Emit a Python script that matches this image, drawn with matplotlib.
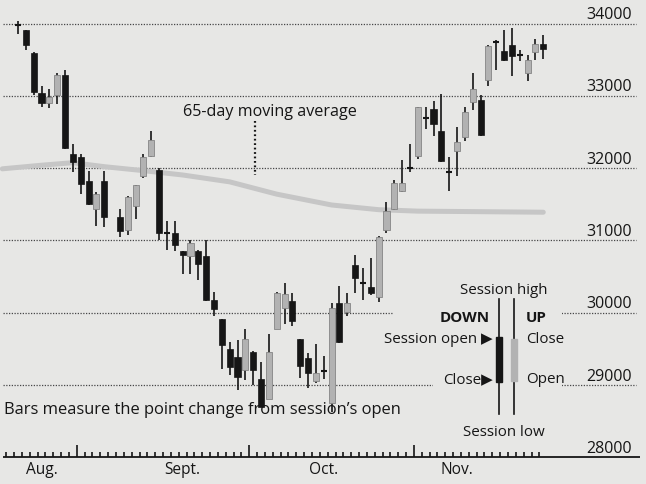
import numpy as np
import matplotlib.pyplot as plt
from matplotlib.patches import Rectangle

# Daily sessions (Aug 18 - Nov 21, 2022)
dates = ['2022-08-18', '2022-08-19', '2022-08-22', '2022-08-23', '2022-08-24',
         '2022-08-25', '2022-08-26', '2022-08-29', '2022-08-30', '2022-08-31',
         '2022-09-01', '2022-09-02', '2022-09-06', '2022-09-07', '2022-09-08',
         '2022-09-09', '2022-09-12', '2022-09-13', '2022-09-14', '2022-09-15',
         '2022-09-16', '2022-09-19', '2022-09-20', '2022-09-21', '2022-09-22',
         '2022-09-23', '2022-09-26', '2022-09-27', '2022-09-28', '2022-09-29',
         '2022-09-30', '2022-10-03', '2022-10-04', '2022-10-05', '2022-10-06',
         '2022-10-07', '2022-10-10', '2022-10-11', '2022-10-12', '2022-10-13',
         '2022-10-14', '2022-10-17', '2022-10-18', '2022-10-19', '2022-10-20',
         '2022-10-21', '2022-10-24', '2022-10-25', '2022-10-26', '2022-10-27',
         '2022-10-28', '2022-10-31', '2022-11-01', '2022-11-02', '2022-11-03',
         '2022-11-04', '2022-11-07', '2022-11-08', '2022-11-09', '2022-11-10',
         '2022-11-11', '2022-11-14', '2022-11-15', '2022-11-16', '2022-11-17',
         '2022-11-18', '2022-11-21']
opens = [33990, 33910, 33590, 33040, 32900, 33015, 33290, 32190, 32150, 31820,
         31430, 31820, 31330, 31140, 31470, 31885, 32165, 31970, 31110, 31100,
         30850, 30790, 30860, 30790, 30170, 29910, 29500, 29390, 29210, 29460,
         29090, 28810, 29780, 30060, 30160, 29635, 29370, 29060, 29190, 28745,
         30140, 30005, 30655, 30400, 30360, 30220, 31150, 31430, 31680, 32000,
         32165, 32690, 32820, 32515, 31950, 32230, 32435, 32920, 32940, 33215,
         33750, 33620, 33705, 33570, 33320, 33600, 33710]
highs = [34040, 33915, 33600, 33140, 33100, 33320, 33360, 32330, 32190, 31960,
         31670, 31960, 31440, 31620, 31770, 32200, 32510, 32000, 31270, 31270,
         30855, 31000, 30870, 31000, 30280, 29920, 29590, 29620, 29780, 29470,
         29320, 29700, 30280, 30410, 30270, 29640, 29440, 29570, 29405, 30140,
         30375, 30270, 30795, 30615, 30755, 31060, 31535, 31840, 32115, 32340,
         32850, 32845, 32930, 33025, 32155, 32570, 32850, 33310, 33005, 33700,
         33770, 33910, 33940, 33640, 33570, 33780, 33835]
lows = [33860, 33630, 33010, 32850, 32830, 32880, 32270, 31950, 31640, 31490,
        31200, 31190, 31050, 31070, 31300, 31860, 32160, 31000, 30870, 30850,
        30530, 30530, 30450, 30160, 29960, 29220, 29140, 28930, 29070, 29000,
        28690, 28800, 29770, 29840, 29810, 29100, 28960, 29030, 29090, 28620,
        29580, 29960, 30270, 30175, 30245, 30150, 31100, 31420, 31670, 31950,
        32120, 32540, 32445, 32090, 31690, 31895, 32380, 32800, 32440, 33130,
        33355, 33480, 33275, 33485, 33210, 33500, 33505]
closes = [33960, 33700, 33050, 32900, 32985, 33290, 32280, 32090, 31775, 31500,
          31640, 31320, 31130, 31600, 31760, 32160, 32385, 31100, 31090, 30940,
          30800, 30970, 30670, 30170, 30050, 29560, 29250, 29110, 29640, 29210,
          28700, 29460, 30270, 30255, 29880, 29260, 29170, 29170, 29200, 30070,
          29590, 30130, 30480, 30420, 30275, 31050, 31400, 31800, 31800, 32015,
          32840, 32700, 32610, 32100, 31940, 32365, 32780, 33100, 32455, 33685,
          33730, 33495, 33555, 33560, 33500, 33710, 33645]

# 65-day moving average, read at a few dates
ma_dates = ['2022-08-16', '2022-08-23', '2022-08-29', '2022-09-02', '2022-09-09',
            '2022-09-16', '2022-09-26', '2022-10-04', '2022-10-13', '2022-10-21',
            '2022-10-28', '2022-11-21']
ma_values = [31990, 32040, 32075, 32020, 31965, 31905, 31810, 31640, 31490,
             31425, 31405, 31390]

grid_levels = [29000, 30000, 31000, 32000, 33000, 34000]
floor_level = 28000
month_names = ['Aug.', 'Sept.', 'Oct.', 'Nov.']
month_label_dates = ['2022-08-23', '2022-09-16', '2022-10-12', '2022-11-04']
month_start_dates = ['2022-09-01', '2022-10-03', '2022-11-01']

plt.rcParams['font.family'] = ['Open Sans', 'DejaVu Sans']

W, H = 646, 485
bg = '#e7e7e5'
ink = '#161616'

fig = plt.figure(figsize=(W / 100, H / 100), dpi=100)
fig.patch.set_facecolor(bg)
ax = fig.add_axes([0, 0, 1, 1])
ax.set_facecolor(bg)
ax.axis('off')

# one slot per weekday, so the Labor Day holiday leaves a gap
def slot(d):
    return np.busday_count(np.datetime64('2022-08-18'),
                           np.array(d, dtype='datetime64[D]'))

PX_SLOT = 7.84
X0 = 18
ax.set_xlim(-X0 / PX_SLOT, (W - X0) / PX_SLOT)
ax.set_ylim(27631, 34339)

def px(p):
    return (p - X0) / PX_SLOT

def fx(p):
    return p / W

def fy(p):
    return 1 - p / H

# gridlines + right-hand labels
for lvl in grid_levels:
    ax.hlines(lvl, px(3), px(636), colors='#474747', linestyles=(0, (1, 1.2)),
              lw=0.9, zorder=1)
    ax.text(px(632), lvl + 20, f'{lvl}', ha='right', va='bottom',
            fontsize=11.5, color=ink, zorder=6)

# floor line with daily ticks
ax.hlines(floor_level, px(3), px(640), colors=ink, lw=1.3, zorder=5)
ax.text(px(632), floor_level + 20, f'{floor_level}', ha='right', va='bottom',
        fontsize=11.5, color=ink, zorder=6)
n = len(dates)
majors = set(int(s) for s in slot(month_start_dates) - 3)
for k in range(-2, n):
    tall = 170 if k in majors else 80
    ax.vlines(k + 0.5, floor_level, floor_level + tall, colors=ink, lw=1.2,
              zorder=5)
for name, d in zip(month_names, month_label_dates):
    ax.text(slot(d), fy(470), name, transform=ax.get_xaxis_transform(),
            ha='center', va='center', fontsize=11.2, color=ink)

# moving average
ax.plot(slot(ma_dates), ma_values, color='#c6c6c6', lw=3.6, zorder=2,
        solid_capstyle='round')

# candlesticks
x = slot(dates)
bw = 0.78
for xi, o, h, l, c in zip(x, opens, highs, lows, closes):
    ax.vlines(xi, l, h, colors=ink, lw=1.2, zorder=3)
    if abs(c - o) < 40:
        ax.hlines((o + c) / 2, xi - bw / 2, xi + bw / 2, colors=ink, lw=1.5,
                  zorder=4)
    elif c > o:
        ax.add_patch(Rectangle((xi - bw / 2, o), bw, c - o, fc='#b2b2b2',
                               ec='#858585', lw=0.6, zorder=4))
    else:
        ax.add_patch(Rectangle((xi - bw / 2, c), bw, o - c, fc=ink,
                               ec=ink, lw=0.5, zorder=4))

# moving average label with dotted leader
ax.text(fx(183), fy(112), '65-day moving average', transform=ax.transAxes,
        ha='left', va='center', fontsize=11.6, color=ink)
ax.plot([fx(255), fx(255)], [fy(122), fy(176)], transform=ax.transAxes,
        color=ink, lw=1.6, ls=(0, (0.8, 1.2)), zorder=5)

ax.text(fx(4), fy(410), 'Bars measure the point change from session\u2019s open',
        transform=ax.transAxes, ha='left', va='center', fontsize=11.9,
        color=ink, zorder=6)

# key: mask the gridlines behind it
ax.add_patch(Rectangle((fx(393), fy(330)), fx(562) - fx(393), fy(300) - fy(330),
                       transform=ax.transAxes, fc=bg, ec='none', zorder=1.5))
ax.add_patch(Rectangle((fx(433), fy(400)), fx(562) - fx(433), fy(360) - fy(400),
                       transform=ax.transAxes, fc=bg, ec='none', zorder=1.5))
for cx, top, bot, col in [(499, 338, 383, ink), (514, 340, 382, '#b2b2b2')]:
    ax.plot([fx(cx), fx(cx)], [fy(300), fy(415)], transform=ax.transAxes,
            color=ink, lw=1.2, zorder=3)
    ax.add_patch(Rectangle((fx(cx - 3), fy(bot)), 6 / W, (bot - top) / H,
                           transform=ax.transAxes, fc=col, ec=col, zorder=4))
key_text = [
    (504, 290, 'Session high', 'center', 'normal'),
    (490, 318, 'DOWN', 'right', 'bold'),
    (526, 318, 'UP', 'left', 'bold'),
    (493, 340, 'Session open \u25b6', 'right', 'normal'),
    (526, 340, 'Close', 'left', 'normal'),
    (493, 380, 'Close\u25b6', 'right', 'normal'),
    (526, 380, 'Open', 'left', 'normal'),
    (504, 432, 'Session low', 'center', 'normal'),
]
for tx, ty, s, ha, wt in key_text:
    ax.text(fx(tx), fy(ty), s, transform=ax.transAxes, ha=ha, va='center',
            fontsize=10.9, fontweight=wt, color=ink, zorder=6)

plt.savefig('out.png', dpi=100, facecolor=bg)
